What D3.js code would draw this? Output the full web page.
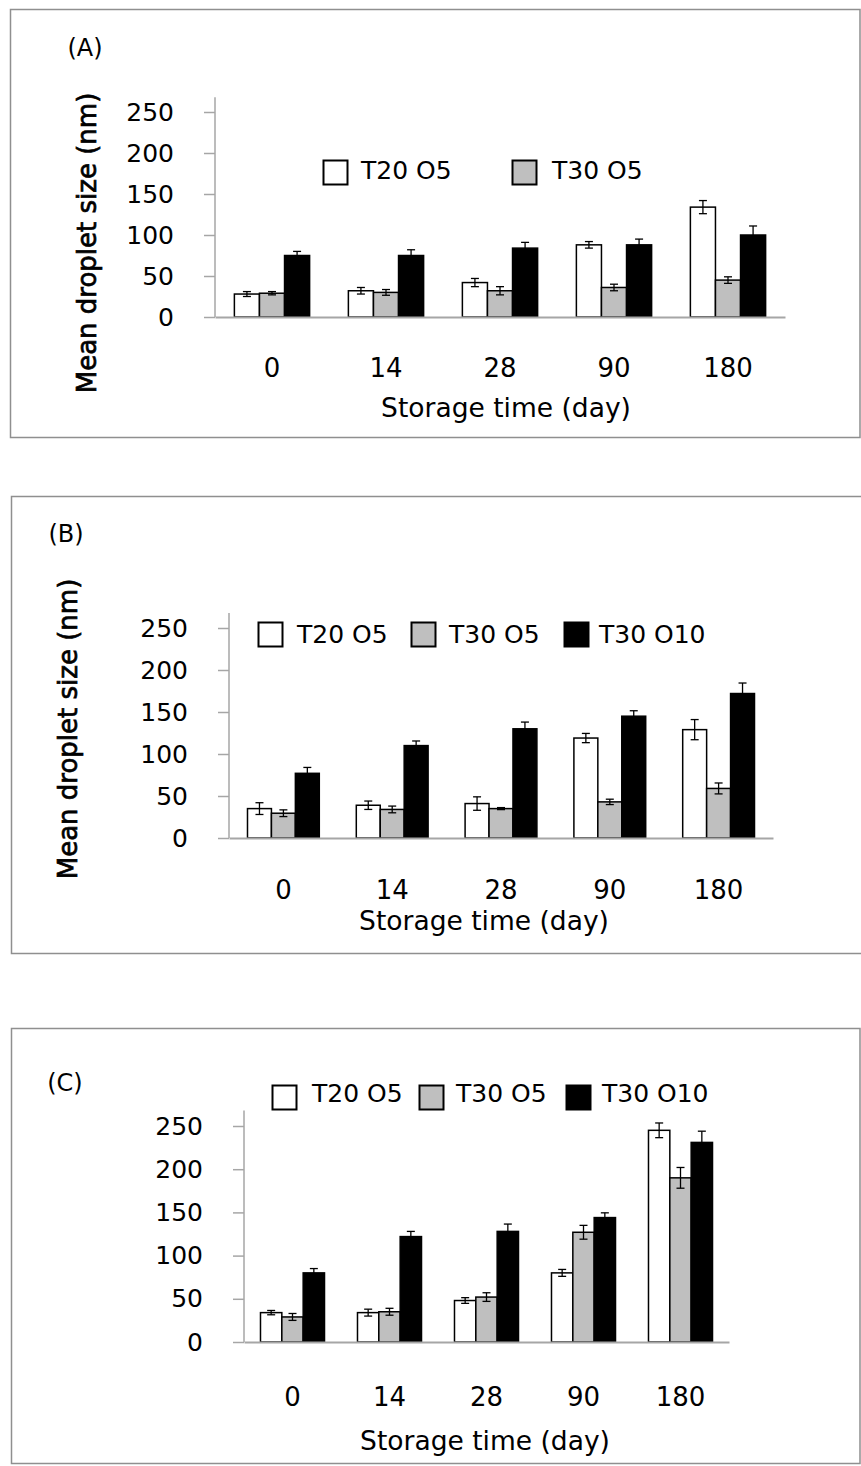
<!DOCTYPE html>
<html>
<head>
<meta charset="utf-8">
<script src="https://cdn.jsdelivr.net/npm/d3@7/dist/d3.min.js"></script>
<style>
  html, body { margin: 0; padding: 0; background: #fff; }
  svg { display: block; }
  text { font-family: "DejaVu Sans", "Noto Sans", sans-serif; fill: #000; }
</style>
</head>
<body>
<svg id="fig" width="861" height="1466"></svg>
<script>
// Storage time categories (days) and emulsion formulations
const days = ["0", "14", "28", "90", "180"];
const series = ["T20 O5", "T30 O5", "T30 O10"];
const yTicks = [0, 50, 100, 150, 200, 250];

// (A) mean droplet size (nm) and standard deviation
const meanA_T20O5  = [28, 32, 42, 88, 134];
const sdA_T20O5    = [3, 4, 5, 4, 8];
const meanA_T30O5  = [29, 30, 32, 36, 45];
const sdA_T30O5    = [2, 3.5, 5, 4, 4];
const meanA_T30O10 = [75, 75, 84, 88, 100];
const sdA_T30O10   = [5, 7, 7, 7, 11];

// (B)
const meanB_T20O5  = [35, 39, 41, 119, 129];
const sdB_T20O5    = [7, 5, 8, 5.5, 12];
const meanB_T30O5  = [29.5, 34, 35, 43, 59];
const sdB_T30O5    = [4, 4, 1.2, 3.2, 6.5];
const meanB_T30O10 = [77, 110, 130, 145, 172];
const sdB_T30O10   = [7, 5.5, 8, 6.5, 12.5];

// (C)
const meanC_T20O5  = [34, 34, 48, 80, 245];
const sdC_T20O5    = [2.5, 4, 3.3, 4, 8.5];
const meanC_T30O5  = [29, 35, 52, 127, 190];
const sdC_T30O5    = [4, 4, 5, 8, 12];
const meanC_T30O10 = [80, 122, 128, 144, 231];
const sdC_T30O10   = [5, 6, 8.5, 5.5, 13];

const fills = { "T20 O5": "#ffffff", "T30 O5": "#bfbfbf", "T30 O10": "#000000" };

function rows(means, sds) {
  const out = [];
  days.forEach((d, i) => {
    series.forEach((s, k) => out.push({ day: d, series: s, mean: means[k][i], sd: sds[k][i] }));
  });
  return out;
}

const panels = [
  {
    id: "A", letter: "(A)",
    frame: { x0: 10, y0: 9, x1: 859.5, y1: 437, right: true },
    letterPos: [85, 47],
    axisX: 215, axisEnd: 785, y0: 317, y250: 112,
    yLabel: [87, 243], yClip: null,
    xLabelY: 368, titlePos: [506, 407],
    legend: { series: ["T20 O5", "T30 O5"], boxX: [323, 512], textX: [361, 552], boxY: 160, textY: 179 },
    data: rows([meanA_T20O5, meanA_T30O5, meanA_T30O10], [sdA_T20O5, sdA_T30O5, sdA_T30O10])
  },
  {
    id: "B", letter: "(B)",
    frame: { x0: 11, y0: 496, x1: 866, y1: 953, right: false },
    letterPos: [66, 533],
    axisX: 229, axisEnd: 773, y0: 838, y250: 628,
    yLabel: [68, 729], yClip: null,
    xLabelY: 890, titlePos: [484, 920],
    legend: { series: ["T20 O5", "T30 O5", "T30 O10"], boxX: [258, 411, 564], textX: [297, 449, 599], boxY: 622, textY: 643 },
    data: rows([meanB_T20O5, meanB_T30O5, meanB_T30O10], [sdB_T20O5, sdB_T30O5, sdB_T30O10])
  },
  {
    id: "C", letter: "(C)",
    frame: { x0: 11, y0: 1028, x1: 859.5, y1: 1463, right: true },
    letterPos: [65, 1082],
    axisX: 244, axisEnd: 729, y0: 1342, y250: 1126,
    yLabel: [70, 1268], yClip: 1114,
    xLabelY: 1397, titlePos: [485, 1440],
    legend: { series: ["T20 O5", "T30 O5", "T30 O10"], boxX: [272, 419, 566], textX: [312, 456, 602], boxY: 1085, textY: 1102 },
    data: rows([meanC_T20O5, meanC_T30O5, meanC_T30O10], [sdC_T20O5, sdC_T30O5, sdC_T30O10])
  }
];

const svg = d3.select("#fig");
svg.append("rect").attr("width", 861).attr("height", 1466).attr("fill", "#fff");

const axisGrey = "#a6a6a6";

panels.forEach(p => {
  const g = svg.append("g").attr("class", "panel-" + p.id);

  // panel border
  const f = p.frame;
  const path = d3.path();
  if (f.right) {
    path.rect(f.x0 + 0.5, f.y0 + 0.5, f.x1 - f.x0, f.y1 - f.y0);
  } else {
    path.moveTo(f.x1, f.y0 + 0.5); path.lineTo(f.x0 + 0.5, f.y0 + 0.5);
    path.lineTo(f.x0 + 0.5, f.y1 + 0.5); path.lineTo(f.x1, f.y1 + 0.5);
  }
  g.append("path").attr("d", path.toString()).attr("fill", "none")
    .attr("stroke", "#8f8f8f").attr("stroke-width", 1.5);

  // scales
  const y = d3.scaleLinear().domain([0, 250]).range([p.y0, p.y250]);
  const x0 = d3.scaleBand().domain(days).range([p.axisX, p.axisEnd])
    .paddingInner(0.34).paddingOuter(0.17);
  const x1 = d3.scaleBand().domain(series).range([0, x0.bandwidth()]);

  // bars
  g.append("g").selectAll("rect").data(p.data).join("rect")
    .attr("x", d => x0(d.day) + x1(d.series))
    .attr("y", d => y(d.mean))
    .attr("width", x1.bandwidth())
    .attr("height", d => y(0) - y(d.mean))
    .attr("fill", d => fills[d.series])
    .attr("stroke", "#000").attr("stroke-width", 1.5);

  // error bars
  const eb = g.append("g").attr("stroke", "#000").attr("stroke-width", 1.3).attr("fill", "none");
  const cap = 4;
  p.data.forEach(d => {
    const cx = x0(d.day) + x1(d.series) + x1.bandwidth() / 2;
    const top = y(d.mean + d.sd), bot = y(d.mean - d.sd);
    eb.append("line").attr("x1", cx).attr("x2", cx).attr("y1", top).attr("y2", bot);
    eb.append("line").attr("x1", cx - cap).attr("x2", cx + cap).attr("y1", top).attr("y2", top);
    eb.append("line").attr("x1", cx - cap).attr("x2", cx + cap).attr("y1", bot).attr("y2", bot);
  });

  // y axis
  const yAxis = g.append("g").attr("transform", `translate(${p.axisX},0)`)
    .call(d3.axisLeft(y).tickValues(yTicks).tickSize(11).tickPadding(30).tickSizeOuter(0));
  yAxis.select(".domain").remove();
  yAxis.selectAll(".tick line").attr("stroke", axisGrey).attr("stroke-width", 1.5);
  yAxis.selectAll(".tick text").attr("font-size", 25).attr("font-family", "DejaVu Sans").attr("fill", "#000");
  yAxis.append("line").attr("x1", 0).attr("x2", 0)
    .attr("y1", y(268)).attr("y2", y(0))
    .attr("stroke", axisGrey).attr("stroke-width", 1.5);

  // x axis
  const xAxis = g.append("g").attr("transform", `translate(0,${p.y0})`)
    .call(d3.axisBottom(x0).tickSize(0).tickSizeOuter(0));
  xAxis.select(".domain").attr("stroke", axisGrey).attr("stroke-width", 2);
  xAxis.selectAll(".tick text")
    .attr("y", p.xLabelY - p.y0).attr("dy", "0.36em")
    .attr("font-size", 26).attr("font-family", "DejaVu Sans").attr("fill", "#000");

  // axis titles
  g.append("text").attr("x", p.titlePos[0]).attr("y", p.titlePos[1]).attr("dy", "0.36em")
    .attr("text-anchor", "middle").attr("font-size", 26.5).text("Storage time (day)");

  let clipRef = null;
  if (p.yClip !== null) {
    const cid = "clip-" + p.id;
    g.append("clipPath").attr("id", cid).append("rect")
      .attr("x", 0).attr("y", p.yClip).attr("width", 200).attr("height", 500);
    clipRef = `url(#${cid})`;
  }
  g.append("text")
    .attr("transform", `translate(${p.yLabel[0]},${p.yLabel[1]}) rotate(-90)`)
    .attr("dy", "0.36em").attr("text-anchor", "middle")
    .attr("font-size", 26)
    .attr("stroke", "#000").attr("stroke-width", 0.7)
    .attr("clip-path", clipRef)
    .text("Mean droplet size (nm)");

  // panel letter
  g.append("text").attr("x", p.letterPos[0]).attr("y", p.letterPos[1]).attr("dy", "0.36em")
    .attr("text-anchor", "middle").attr("font-size", 24).text(p.letter);

  // legend
  const L = p.legend;
  L.series.forEach((s, i) => {
    g.append("rect").attr("x", L.boxX[i] + 0.5).attr("y", L.boxY + 0.5)
      .attr("width", 24).attr("height", 24)
      .attr("fill", fills[s]).attr("stroke", "#000").attr("stroke-width", 2);
    g.append("text").attr("x", L.textX[i]).attr("y", L.textY)
      .attr("font-size", 25).text(s);
  });
});
</script>
</body>
</html>
